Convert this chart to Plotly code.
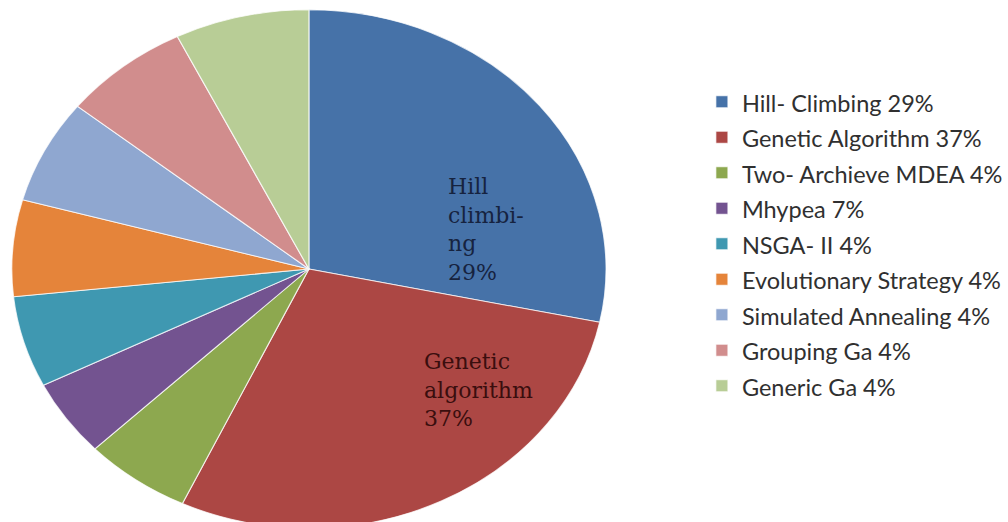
import plotly.graph_objects as go

# ---- data ----
labels = ["Hill- Climbing 29%", "Genetic Algorithm 37%", "Two- Archieve MDEA 4%",
          "Mhypea 7%", "NSGA- II 4%", "Evolutionary Strategy 4%",
          "Simulated Annealing 4%", "Grouping Ga 4%", "Generic Ga 4%"]
# slice sizes as drawn in the picture (percent of the full circle)
values = [28.3, 28.7, 5.8, 4.8, 5.7, 6.0, 6.5, 6.9, 7.3]
colors = ["#4672A8", "#AC4744", "#8DA84F", "#735390", "#3F98B1",
          "#E5843A", "#8FA7D0", "#D18D8D", "#B8CD96"]
slice_labels = ["Hill<br>climbi-<br>ng<br>29%", "Genetic<br>algorithm<br>37%"]

W, H = 1008, 522
# pie geometry (circle drawn by plotly, then stretched to the reference's ellipse)
CX, CY, R0 = 310, 269, 253
RX, RY = 298, 260

legend_labels = ['<span style="font-size:23.5px">' + l + '</span>' for l in labels]

fig = go.Figure(go.Pie(
    labels=legend_labels,
    values=values,
    sort=False,
    direction="clockwise",
    rotation=0,
    textinfo="none",
    hoverinfo="skip",
    marker=dict(colors=colors, line=dict(color="rgba(255,255,255,0.75)", width=1)),
    domain=dict(x=[(CX - R0) / W, (CX + R0) / W], y=[0, 1 - (CY - R0) / H]),
))

fig.add_annotation(text=slice_labels[0], x=447 / W, y=1 - 172 / H, xref="paper", yref="paper",
                   xanchor="left", yanchor="top", align="left", showarrow=False,
                   font=dict(family="DejaVu Serif", size=22, color="#16233f"))
fig.add_annotation(text=slice_labels[1], x=423 / W, y=1 - 347 / H, xref="paper", yref="paper",
                   xanchor="left", yanchor="top", align="left", showarrow=False,
                   font=dict(family="DejaVu Serif", size=22, color="#3a0e0e"))

fig.update_layout(
    width=W, height=H,
    margin=dict(l=0, r=0, t=0, b=0),
    paper_bgcolor="white",
    plot_bgcolor="white",
    showlegend=True,
    legend=dict(x=704 / W, xanchor="left", y=1 - 79 / H, yanchor="top",
                font=dict(family="Lato", size=25, color="#303030"),
                bgcolor="rgba(0,0,0,0)", traceorder="normal"),
)

post = ("var gd=document.getElementById('{plot_id}');"
        "var pl=gd.querySelector('.pielayer');"
        "if(pl){pl.setAttribute('transform','translate(" + str(CX) + "," + str(CY) + ") scale("
        + str(RX / R0) + "," + str(RY / R0) + ") translate(" + str(-CX) + "," + str(-CY) + ")');}")

fig.write_html("out.html", post_script=post)
